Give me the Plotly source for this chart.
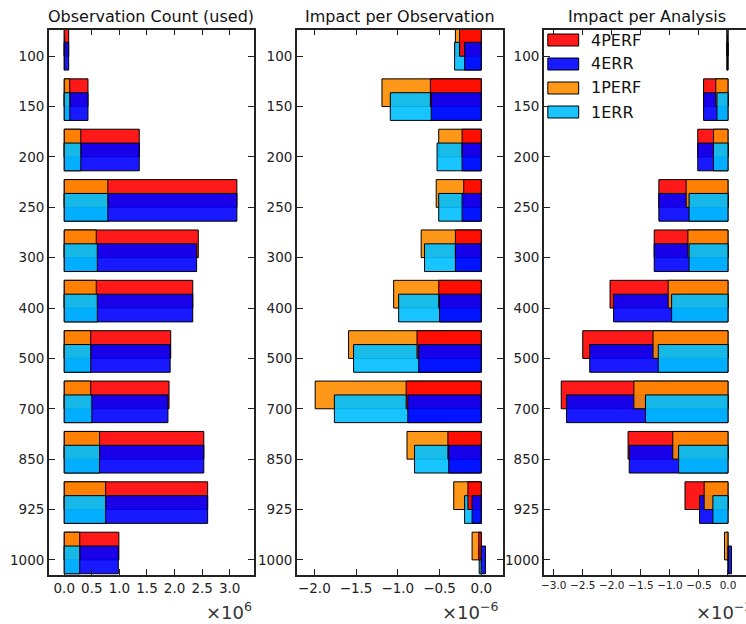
import plotly.graph_objects as go

levels = ["100", "150", "200", "250", "300", "400", "500", "700", "850", "925", "1000"]
series_names = ["4PERF", "4ERR", "1PERF", "1ERR"]

# Observation Count (used)  (raw counts)
count_4perf = [0.08e6, 0.43e6, 1.36e6, 3.13e6, 2.43e6, 2.33e6, 1.93e6, 1.90e6, 2.53e6, 2.60e6, 0.99e6]
count_4err = [0.08e6, 0.43e6, 1.36e6, 3.13e6, 2.40e6, 2.33e6, 1.92e6, 1.88e6, 2.53e6, 2.60e6, 0.98e6]
count_1perf = [0.005e6, 0.10e6, 0.30e6, 0.79e6, 0.58e6, 0.58e6, 0.48e6, 0.48e6, 0.64e6, 0.75e6, 0.28e6]
count_1err = [0.005e6, 0.10e6, 0.30e6, 0.79e6, 0.60e6, 0.60e6, 0.48e6, 0.50e6, 0.64e6, 0.75e6, 0.28e6]

# Impact per Observation
ipo_4perf = [-0.26e-6, -0.61e-6, -0.23e-6, -0.21e-6, -0.31e-6, -0.51e-6, -0.77e-6, -0.90e-6, -0.40e-6, -0.16e-6, -0.03e-6]
ipo_4err = [-0.20e-6, -0.60e-6, -0.23e-6, -0.23e-6, -0.31e-6, -0.50e-6, -0.75e-6, -0.88e-6, -0.39e-6, -0.11e-6, 0.05e-6]
ipo_1perf = [-0.31e-6, -1.19e-6, -0.51e-6, -0.54e-6, -0.72e-6, -1.05e-6, -1.59e-6, -1.99e-6, -0.89e-6, -0.33e-6, -0.11e-6]
ipo_1err = [-0.32e-6, -1.09e-6, -0.53e-6, -0.51e-6, -0.68e-6, -0.99e-6, -1.53e-6, -1.76e-6, -0.80e-6, -0.20e-6, -0.025e-6]

# Impact per Analysis
ipa_4perf = [-0.02e-2, -0.42e-2, -0.52e-2, -1.19e-2, -1.27e-2, -2.03e-2, -2.50e-2, -2.87e-2, -1.72e-2, -0.74e-2, -0.02e-2]
ipa_4err = [-0.02e-2, -0.42e-2, -0.52e-2, -1.19e-2, -1.27e-2, -1.97e-2, -2.38e-2, -2.78e-2, -1.70e-2, -0.49e-2, 0.06e-2]
ipa_1perf = [-0.01e-2, -0.21e-2, -0.25e-2, -0.72e-2, -0.69e-2, -1.03e-2, -1.29e-2, -1.62e-2, -0.95e-2, -0.41e-2, -0.06e-2]
ipa_1err = [-0.01e-2, -0.19e-2, -0.25e-2, -0.67e-2, -0.67e-2, -0.97e-2, -1.20e-2, -1.42e-2, -0.85e-2, -0.26e-2, 0.01e-2]

titles = ["Observation Count (used)", "Impact per Observation", "Impact per Analysis"]
scales = [1e6, 1e-6, 1e-2]
scale_labels = ["×10<sup>6</sup>", "×10<sup>−6</sup>", "×10<sup>−2</sup>"]

x1_ticks = [0.0, 0.5, 1.0, 1.5, 2.0, 2.5, 3.0]
x2_ticks = [-2.0, -1.5, -1.0, -0.5, 0.0]
x3_ticks = [-3.0, -2.5, -2.0, -1.5, -1.0, -0.5, 0.0]

colors = {
    "4PERF": "rgba(255,0,0,0.9)",
    "4ERR": "rgba(0,0,255,0.9)",
    "1PERF": "rgba(255,140,0,0.9)",
    "1ERR": "rgba(0,191,255,0.9)",
}

FONT = "DejaVu Sans"
BAR_H = 0.55
idx = list(range(len(levels)))
upper = [i - BAR_H / 2 for i in idx]
lower = idx

panels = [
    {"4PERF": count_4perf, "4ERR": count_4err, "1PERF": count_1perf, "1ERR": count_1err},
    {"4PERF": ipo_4perf, "4ERR": ipo_4err, "1PERF": ipo_1perf, "1ERR": ipo_1err},
    {"4PERF": ipa_4perf, "4ERR": ipa_4err, "1PERF": ipa_1perf, "1ERR": ipa_1err},
]
orders = [
    ["4PERF", "4ERR", "1PERF", "1ERR"],
    ["1PERF", "1ERR", "4PERF", "4ERR"],
    ["4PERF", "4ERR", "1PERF", "1ERR"],
]

W, H = 746, 624
fig = go.Figure()

for p, (data, order, sc) in enumerate(zip(panels, orders, scales)):
    xa = "x" if p == 0 else f"x{p+1}"
    ya = "y" if p == 0 else f"y{p+1}"
    for name in order:
        ypos = upper if name in ("4PERF", "1PERF") else lower
        fig.add_trace(go.Bar(
            x=[v / sc for v in data[name]], y=ypos, orientation="h",
            width=BAR_H, base=0, name=name, showlegend=False,
            marker=dict(color=colors[name], line=dict(color="black", width=1)),
            xaxis=xa, yaxis=ya, hoverinfo="skip",
        ))

doms = [(46 / W, 252 / W), (295 / W, 502 / W), (543 / W, 1.0)]
ydom = (1 - 575 / H, 1 - 29.5 / H)
xranges = [[-0.28, 3.44], [-2.21, 0.26], [-3.17, 0.31]]
xticks = [x1_ticks, x2_ticks, x3_ticks]
xfont = [13.5, 13.5, 10.5]

axis_common = dict(showgrid=False, zeroline=False, showline=True, linecolor="#222",
                   linewidth=1.5, ticks="inside", ticklen=6, tickcolor="#222",
                   tickfont=dict(family=FONT, size=13.5, color="#222"))

layout = dict(width=W, height=H, margin=dict(l=0, r=0, t=0, b=0),
              plot_bgcolor="white", paper_bgcolor="white", barmode="overlay",
              font=dict(family=FONT), showlegend=False)

for p in range(3):
    xk = "xaxis" if p == 0 else f"xaxis{p+1}"
    yk = "yaxis" if p == 0 else f"yaxis{p+1}"
    ya = "y" if p == 0 else f"y{p+1}"
    xa = "x" if p == 0 else f"x{p+1}"
    xc = dict(axis_common)
    xc.update(domain=list(doms[p]), range=xranges[p], anchor=ya, mirror="ticks",
              tickvals=xticks[p], ticktext=[f"{t:.1f}".replace("-", "−") for t in xticks[p]],
              tickangle=0,
              tickfont=dict(family=FONT, size=xfont[p], color="#222"))
    yc = dict(axis_common)
    yc.update(domain=list(ydom), range=[10.30, -0.53], anchor=xa,
              mirror=("ticks" if p < 2 else False),
              tickvals=idx, ticktext=levels)
    layout[xk] = xc
    layout[yk] = yc

annotations = []
for p in range(3):
    cx = (doms[p][0] + (doms[p][1] if p < 2 else 750 / W)) / 2
    annotations.append(dict(text=titles[p], x=cx, y=1 - 16 / H, xref="paper", yref="paper",
                            showarrow=False, xanchor="center", yanchor="middle",
                            font=dict(family=FONT, size=16, color="#111")))
sx = [252 / W, 500 / W, 694 / W]
for p in range(3):
    annotations.append(dict(text=scale_labels[p], x=sx[p], y=1 - 611 / H, xref="paper", yref="paper",
                            showarrow=False, xanchor=("right" if p < 2 else "left"), yanchor="middle",
                            font=dict(family=FONT, size=18, color="#333")))

# custom legend (matplotlib-style patches)
shapes = []
for k, name in enumerate(series_names):
    ytop = 34 + 24 * k
    shapes.append(dict(type="rect", xref="paper", yref="paper",
                       x0=547 / W, x1=578 / W, y0=1 - (ytop + 12) / H, y1=1 - ytop / H,
                       fillcolor=colors[name], line=dict(color="black", width=1)))
    annotations.append(dict(text=name, x=588 / W, y=1 - (ytop + 6) / H, xref="paper", yref="paper",
                            showarrow=False, xanchor="left", yanchor="middle",
                            font=dict(family=FONT, size=16, color="#111")))

layout["annotations"] = annotations
layout["shapes"] = shapes
fig.update_layout(**layout)
fig.write_html("out.html", config={"displayModeBar": False},
               post_script="document.body.style.margin='0';document.body.style.overflow='hidden';")
